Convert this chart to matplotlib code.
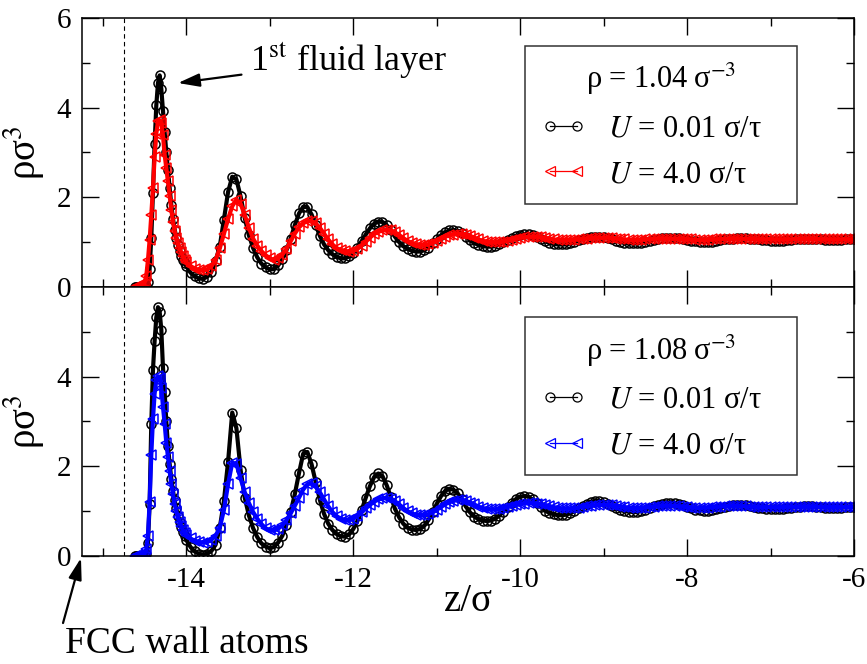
import matplotlib
matplotlib.use('Agg')
import numpy as np
import matplotlib.pyplot as plt
from matplotlib.ticker import MultipleLocator

plt.rcParams['font.family'] = ['Liberation Serif', 'DejaVu Serif']
plt.rcParams['mathtext.fontset'] = 'stix'
plt.rcParams['axes.unicode_minus'] = False

# z/sigma bin centres (fine near the wall, 0.05 further out)
z = [
    -14.62, -14.60, -14.58, -14.56, -14.54, -14.52, -14.50, -14.48, -14.46, -14.44,
    -14.42, -14.40, -14.38, -14.36, -14.34, -14.32, -14.30, -14.28, -14.26, -14.24,
    -14.22, -14.20, -14.18, -14.16, -14.14, -14.12, -14.10, -14.08, -14.06, -14.04,
    -14.02,
    -14.00, -13.95, -13.90, -13.85, -13.80, -13.75, -13.70, -13.65, -13.60, -13.55,
    -13.50, -13.45, -13.40, -13.35, -13.30, -13.25, -13.20, -13.15, -13.10, -13.05,
    -13.00, -12.95, -12.90, -12.85, -12.80, -12.75, -12.70, -12.65, -12.60, -12.55,
    -12.50, -12.45, -12.40, -12.35, -12.30, -12.25, -12.20, -12.15, -12.10, -12.05,
    -12.00, -11.95, -11.90, -11.85, -11.80, -11.75, -11.70, -11.65, -11.60, -11.55,
    -11.50, -11.45, -11.40, -11.35, -11.30, -11.25, -11.20, -11.15, -11.10, -11.05,
    -11.00, -10.95, -10.90, -10.85, -10.80, -10.75, -10.70, -10.65, -10.60, -10.55,
    -10.50, -10.45, -10.40, -10.35, -10.30, -10.25, -10.20, -10.15, -10.10, -10.05,
    -10.00, -9.95, -9.90, -9.85, -9.80, -9.75, -9.70, -9.65, -9.60, -9.55,
    -9.50, -9.45, -9.40, -9.35, -9.30, -9.25, -9.20, -9.15, -9.10, -9.05,
    -9.00, -8.95, -8.90, -8.85, -8.80, -8.75, -8.70, -8.65, -8.60, -8.55,
    -8.50, -8.45, -8.40, -8.35, -8.30, -8.25, -8.20, -8.15, -8.10, -8.05,
    -8.00, -7.95, -7.90, -7.85, -7.80, -7.75, -7.70, -7.65, -7.60, -7.55,
    -7.50, -7.45, -7.40, -7.35, -7.30, -7.25, -7.20, -7.15, -7.10, -7.05,
    -7.00, -6.95, -6.90, -6.85, -6.80, -6.75, -6.70, -6.65, -6.60, -6.55,
    -6.50, -6.45, -6.40, -6.35, -6.30, -6.25, -6.20, -6.15, -6.10, -6.05,
    -6.00,
]

# rho = 1.04, U = 0.01
top_slow = [
    0.00, 0.00, 0.00, 0.00, 0.00, 0.00, 0.01, 0.03, 0.12, 0.40,
    1.10, 2.10, 3.20, 4.05, 4.55, 4.72, 4.42, 3.92, 3.45, 3.00,
    2.60, 2.20, 1.82, 1.52, 1.28, 1.10, 0.93, 0.81, 0.70, 0.61,
    0.53,
    0.46, 0.32, 0.24, 0.19, 0.18, 0.23, 0.34, 0.58, 0.90, 1.50,
    2.12, 2.46, 2.40, 2.02, 1.54, 1.15, 0.87, 0.66, 0.52, 0.44,
    0.39, 0.40, 0.48, 0.62, 0.82, 1.08, 1.38, 1.64, 1.79, 1.78,
    1.62, 1.38, 1.14, 0.95, 0.82, 0.73, 0.67, 0.64, 0.64, 0.68,
    0.76, 0.88, 1.02, 1.17, 1.31, 1.41, 1.46, 1.45, 1.38, 1.26,
    1.12, 1.00, 0.91, 0.85, 0.81, 0.79, 0.79, 0.82, 0.88, 0.97,
    1.06, 1.15, 1.22, 1.26, 1.27, 1.25, 1.20, 1.12, 1.04, 0.98,
    0.94, 0.91, 0.90, 0.90, 0.91, 0.95, 1.00, 1.05, 1.10, 1.14,
    1.17, 1.18, 1.18, 1.16, 1.12, 1.07, 1.02, 0.98, 0.96, 0.95,
    0.95, 0.95, 0.97, 1.00, 1.04, 1.07, 1.10, 1.12, 1.12, 1.12,
    1.11, 1.09, 1.06, 1.03, 1.00, 0.98, 0.97, 0.97, 0.97, 0.98,
    1.00, 1.03, 1.05, 1.07, 1.09, 1.10, 1.10, 1.10, 1.09, 1.07,
    1.05, 1.03, 1.02, 1.01, 1.01, 1.01, 1.01, 1.02, 1.04, 1.06,
    1.07, 1.08, 1.09, 1.09, 1.09, 1.08, 1.07, 1.06, 1.05, 1.04,
    1.03, 1.03, 1.03, 1.03, 1.04, 1.05, 1.06, 1.06, 1.07, 1.07,
    1.07, 1.06, 1.06, 1.05, 1.05, 1.05, 1.05, 1.05, 1.06, 1.06,
    1.06,
]

# rho = 1.04, U = 4.0
top_fast = [
    0.01, 0.01, 0.02, 0.02, 0.03, 0.05, 0.10, 0.25, 0.60, 1.05,
    1.60, 2.20, 2.90, 3.42, 3.70, 3.72, 3.66, 3.38, 2.95, 2.65,
    2.36, 2.04, 1.72, 1.45, 1.25, 1.10, 0.97, 0.86, 0.77, 0.69,
    0.61,
    0.55, 0.47, 0.41, 0.38, 0.37, 0.39, 0.46, 0.60, 0.86, 1.18,
    1.52, 1.80, 1.95, 1.86, 1.60, 1.32, 1.08, 0.92, 0.80, 0.71,
    0.64, 0.60, 0.64, 0.72, 0.85, 1.02, 1.19, 1.33, 1.42, 1.47,
    1.47, 1.42, 1.32, 1.19, 1.06, 0.95, 0.87, 0.82, 0.80, 0.79,
    0.80, 0.85, 0.92, 1.01, 1.10, 1.18, 1.23, 1.26, 1.27, 1.26,
    1.22, 1.16, 1.09, 1.03, 0.98, 0.95, 0.94, 0.94, 0.95, 0.98,
    1.03, 1.08, 1.12, 1.15, 1.17, 1.18, 1.18, 1.17, 1.14, 1.10,
    1.06, 1.03, 1.01, 1.00, 1.00, 1.00, 1.01, 1.03, 1.05, 1.08,
    1.10, 1.11, 1.12, 1.12, 1.12, 1.11, 1.09, 1.08, 1.06, 1.05,
    1.05, 1.05, 1.05, 1.05, 1.06, 1.07, 1.08, 1.09, 1.10, 1.10,
    1.10, 1.10, 1.09, 1.08, 1.07, 1.06, 1.05, 1.05, 1.05, 1.05,
    1.06, 1.06, 1.07, 1.08, 1.08, 1.08, 1.08, 1.08, 1.07, 1.07,
    1.06, 1.06, 1.05, 1.05, 1.05, 1.05, 1.06, 1.06, 1.07, 1.07,
    1.07, 1.08, 1.08, 1.08, 1.07, 1.07, 1.07, 1.06, 1.06, 1.06,
    1.06, 1.06, 1.06, 1.06, 1.06, 1.06, 1.07, 1.07, 1.07, 1.07,
    1.07, 1.07, 1.06, 1.06, 1.06, 1.06, 1.06, 1.06, 1.06, 1.06,
    1.06,
]

# rho = 1.08, U = 0.01
bot_slow = [
    0.00, 0.00, 0.00, 0.00, 0.00, 0.00, 0.00, 0.05, 0.30, 1.15,
    2.95, 4.15, 4.80, 5.32, 5.55, 5.45, 5.05, 4.20, 3.65, 3.00,
    2.45, 2.05, 1.72, 1.45, 1.24, 1.06, 0.90, 0.76, 0.64, 0.53,
    0.44,
    0.36, 0.20, 0.10, 0.05, 0.03, 0.05, 0.11, 0.25, 0.62, 1.22,
    2.10, 3.20, 2.85, 1.92, 1.30, 0.90, 0.62, 0.42, 0.28, 0.21,
    0.17, 0.20, 0.30, 0.45, 0.70, 0.98, 1.38, 1.85, 2.28, 2.32,
    2.05, 1.65, 1.25, 0.94, 0.72, 0.58, 0.49, 0.44, 0.43, 0.48,
    0.60, 0.78, 1.02, 1.30, 1.56, 1.76, 1.84, 1.78, 1.58, 1.32,
    1.05, 0.86, 0.72, 0.63, 0.59, 0.58, 0.60, 0.67, 0.80, 0.97,
    1.16, 1.33, 1.45, 1.50, 1.48, 1.40, 1.26, 1.10, 0.97, 0.88,
    0.82, 0.79, 0.78, 0.79, 0.83, 0.90, 0.99, 1.09, 1.19, 1.27,
    1.32, 1.34, 1.32, 1.26, 1.18, 1.09, 1.01, 0.96, 0.93, 0.91,
    0.91, 0.92, 0.95, 1.00, 1.06, 1.12, 1.17, 1.21, 1.23, 1.23,
    1.20, 1.16, 1.11, 1.06, 1.02, 1.00, 0.99, 0.98, 0.98, 1.00,
    1.03, 1.07, 1.11, 1.14, 1.17, 1.18, 1.19, 1.18, 1.16, 1.13,
    1.09, 1.06, 1.03, 1.02, 1.01, 1.01, 1.02, 1.04, 1.07, 1.10,
    1.12, 1.13, 1.14, 1.14, 1.13, 1.11, 1.09, 1.07, 1.06, 1.05,
    1.04, 1.04, 1.04, 1.05, 1.06, 1.08, 1.09, 1.10, 1.11, 1.11,
    1.11, 1.10, 1.09, 1.08, 1.08, 1.08, 1.08, 1.08, 1.09, 1.09,
    1.09,
]

# rho = 1.08, U = 4.0
bot_fast = [
    0.01, 0.01, 0.02, 0.02, 0.03, 0.04, 0.06, 0.15, 0.45, 1.20,
    2.25, 3.05, 3.62, 3.92, 4.01, 3.98, 3.75, 3.33, 2.95, 2.52,
    2.20, 1.90, 1.60, 1.38, 1.15, 1.00, 0.87, 0.76, 0.66, 0.58,
    0.52,
    0.47, 0.39, 0.34, 0.31, 0.30, 0.31, 0.36, 0.45, 0.63, 1.02,
    1.60, 2.08, 2.05, 1.73, 1.42, 1.18, 0.98, 0.83, 0.71, 0.62,
    0.57, 0.57, 0.61, 0.68, 0.80, 0.95, 1.12, 1.30, 1.48, 1.60,
    1.62, 1.55, 1.42, 1.26, 1.11, 0.98, 0.89, 0.83, 0.80, 0.80,
    0.83, 0.89, 0.97, 1.06, 1.14, 1.21, 1.26, 1.29, 1.29, 1.27,
    1.22, 1.15, 1.07, 1.00, 0.95, 0.92, 0.91, 0.91, 0.93, 0.97,
    1.03, 1.09, 1.15, 1.20, 1.23, 1.25, 1.25, 1.23, 1.19, 1.15,
    1.10, 1.07, 1.05, 1.04, 1.04, 1.05, 1.07, 1.09, 1.12, 1.14,
    1.16, 1.17, 1.18, 1.18, 1.17, 1.15, 1.13, 1.11, 1.09, 1.07,
    1.06, 1.06, 1.06, 1.07, 1.08, 1.10, 1.11, 1.12, 1.13, 1.14,
    1.14, 1.14, 1.13, 1.12, 1.10, 1.09, 1.08, 1.07, 1.07, 1.07,
    1.08, 1.09, 1.10, 1.11, 1.12, 1.12, 1.12, 1.12, 1.11, 1.10,
    1.09, 1.08, 1.08, 1.08, 1.08, 1.08, 1.09, 1.10, 1.10, 1.11,
    1.11, 1.12, 1.12, 1.11, 1.11, 1.10, 1.10, 1.09, 1.09, 1.09,
    1.09, 1.09, 1.09, 1.09, 1.10, 1.10, 1.10, 1.10, 1.10, 1.10,
    1.10, 1.10, 1.10, 1.09, 1.09, 1.09, 1.09, 1.09, 1.09, 1.09,
    1.09,
]

wall_z = -14.75
labels = ['$U$ = 0.01 σ/τ', '$U$ = 4.0 σ/τ']
titles = ['ρ = 1.04\u2009σ$^{-3}$', 'ρ = 1.08\u2009σ$^{-3}$']

fig = plt.figure(figsize=(8.67, 6.64), dpi=100)
ax1 = fig.add_axes([0.0946, 0.5678, 0.8904, 0.4051])
ax2 = fig.add_axes([0.0946, 0.1627, 0.8904, 0.4051])

panels = [(ax1, top_slow, top_fast, 'red', titles[0], 0.896),
          (ax2, bot_slow, bot_fast, 'blue', titles[1], 0.888)]

for ax, slow, fast, col, ttl, ltop in panels:
    ax.plot(z, slow, color='black', lw=3, marker='o', ms=6.5,
            mfc='none', mec='black', mew=1.1, label=labels[0])
    ax.plot(z, fast, color=col, lw=3, marker='<', ms=7,
            mfc='none', mec=col, mew=1.1, label=labels[1])
    ax.axvline(wall_z, color='black', ls='--', lw=0.8, dashes=(4, 3))
    ax.set_xlim(-15.25, -6.0)
    ax.set_ylim(0, 6)
    ax.xaxis.set_major_locator(MultipleLocator(2))
    ax.xaxis.set_minor_locator(MultipleLocator(1))
    ax.yaxis.set_minor_locator(MultipleLocator(1))
    ax.tick_params(which='both', direction='in', top=True, right=True,
                   labelsize=21, width=1.0, pad=8)
    ax.tick_params(which='major', length=12)
    ax.tick_params(which='minor', length=6)
    for s in ax.spines.values():
        s.set_linewidth(1.1)
    ax.set_ylabel('ρσ$^3$', fontsize=28)
    ax.yaxis.set_label_coords(-0.045, 0.5)
    # legend handles drawn thin, like the reference key
    h1, = ax.plot([], [], color='black', lw=0.9, marker='o', ms=6.5,
                  mfc='none', mec='black', mew=0.9)
    h2, = ax.plot([], [], color=col, lw=0.9, marker='<', ms=7,
                  mfc='none', mec=col, mew=0.9)
    leg = ax.legend([h1, h2], labels, loc='upper left',
                    bbox_to_anchor=(0.574, 0.0, 0.352, ltop),
                    mode='expand', fontsize=22, title=ttl, title_fontsize=22,
                    numpoints=2, handlelength=1.5, handletextpad=0.7,
                    labelspacing=0.55, borderpad=0.5, frameon=True,
                    fancybox=False, borderaxespad=0.0)
    leg.get_frame().set_edgecolor('black')
    leg.get_frame().set_linewidth(1.1)

ax1.set_yticks([0, 2, 4, 6])
ax1.tick_params(labelbottom=False)
ax2.set_yticks([0, 2, 4])
ax2.set_yticks([1, 3, 5], minor=True)

ax2.set_xlabel('z/σ', fontsize=28)
ax2.xaxis.set_label_coords(0.5, -0.1)

ax1.annotate('1$^{\\rm st}$ fluid layer', xy=(-14.10, 4.55), xytext=(-13.24, 5.05),
             fontsize=26, ha='left', va='center',
             arrowprops=dict(arrowstyle='-|>,head_length=0.65,head_width=0.2',
                             color='black', lw=1.6, mutation_scale=20,
                             shrinkA=4, shrinkB=0))

ax2.annotate('', xy=(0.0934, 0.1596), xytext=(0.0727, 0.0617),
             xycoords='figure fraction', textcoords='figure fraction',
             arrowprops=dict(arrowstyle='-|>,head_length=0.65,head_width=0.2',
                             color='black', lw=1.6, mutation_scale=20,
                             shrinkA=0, shrinkB=0))
fig.text(0.075, 0.016, 'FCC wall atoms', fontsize=27, ha='left', va='baseline')

fig.savefig('out.png', dpi=100)
